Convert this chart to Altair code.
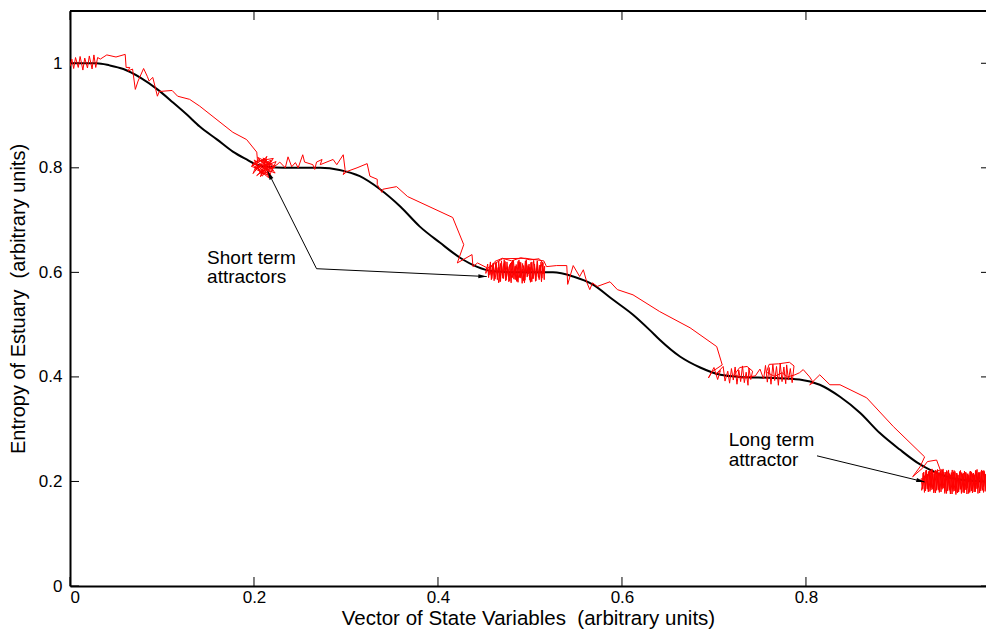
import altair as alt
import pandas as pd

FONT = "Liberation Sans, Arial, Helvetica, sans-serif"

# Axis tick values
x_ticks = [0, 0.2, 0.4, 0.6, 0.8]
y_ticks = [0, 0.2, 0.4, 0.6, 0.8, 1.0]

# Smooth (deterministic) path of the estuary entropy
path_x = [0.000, 0.029, 0.043, 0.058, 0.076, 0.095, 0.112, 0.127, 0.141, 0.160,
          0.177, 0.192, 0.203, 0.214, 0.232, 0.272, 0.293, 0.315, 0.337, 0.359,
          0.380, 0.402, 0.424, 0.442, 0.460, 0.489, 0.525, 0.547, 0.568, 0.590,
          0.612, 0.630, 0.641, 0.663, 0.685, 0.707, 0.728, 0.764, 0.793, 0.815,
          0.837, 0.859, 0.880, 0.902, 0.921, 0.935, 0.955, 0.975, 0.996]
path_y = [1.000, 1.000, 0.996, 0.989, 0.973, 0.950, 0.925, 0.902, 0.879, 0.854,
          0.831, 0.816, 0.806, 0.802, 0.800, 0.800, 0.796, 0.784, 0.759, 0.726,
          0.688, 0.657, 0.628, 0.611, 0.602, 0.600, 0.600, 0.592, 0.577, 0.548,
          0.519, 0.490, 0.471, 0.439, 0.418, 0.404, 0.400, 0.398, 0.395, 0.385,
          0.362, 0.331, 0.293, 0.261, 0.236, 0.222, 0.208, 0.202, 0.200]

# Perturbed trajectory, stored piece by piece in travel order
traj_start = [(0.000, 0.994), (0.002, 1.008), (0.004, 0.990), (0.006, 1.011), (0.009, 0.992),
              (0.011, 1.013), (0.014, 0.987), (0.016, 1.010), (0.019, 0.991), (0.021, 1.014),
              (0.024, 0.989), (0.026, 1.016), (0.028, 0.992), (0.030, 1.011), (0.033, 1.008),
              (0.040, 1.016), (0.050, 1.012), (0.060, 1.017), (0.061, 0.992), (0.065, 0.992),
              (0.063, 0.985), (0.068, 0.989), (0.071, 0.950), (0.074, 0.966), (0.080, 0.990),
              (0.084, 0.975), (0.086, 0.966), (0.090, 0.973), (0.095, 0.937), (0.097, 0.946),
              (0.111, 0.948), (0.117, 0.937), (0.130, 0.931), (0.141, 0.918), (0.177, 0.868),
              (0.192, 0.854), (0.203, 0.830), (0.204, 0.810)]

traj_blob_08 = [(0.198, 0.806), (0.210, 0.792), (0.200, 0.815), (0.214, 0.800), (0.203, 0.785),
                (0.218, 0.812), (0.206, 0.797), (0.197, 0.803), (0.212, 0.818), (0.221, 0.795),
                (0.208, 0.788), (0.215, 0.809), (0.201, 0.798), (0.219, 0.783), (0.211, 0.806),
                (0.204, 0.820), (0.222, 0.804), (0.213, 0.790), (0.199, 0.810), (0.216, 0.796),
                (0.209, 0.814), (0.223, 0.801), (0.206, 0.792), (0.217, 0.786), (0.224, 0.812),
                (0.212, 0.803), (0.220, 0.797), (0.205, 0.816), (0.199, 0.789), (0.214, 0.822),
                (0.207, 0.783), (0.219, 0.815), (0.202, 0.801), (0.216, 0.781), (0.210, 0.819),
                (0.223, 0.790), (0.205, 0.803), (0.218, 0.807), (0.209, 0.784), (0.201, 0.812),
                (0.221, 0.818), (0.213, 0.795)]

traj_drop_06 = [(0.225, 0.806), (0.228, 0.811), (0.234, 0.800), (0.237, 0.821), (0.241, 0.802),
                (0.245, 0.810), (0.248, 0.800), (0.253, 0.825), (0.255, 0.811), (0.264, 0.806),
                (0.266, 0.797), (0.268, 0.811), (0.274, 0.816), (0.272, 0.806), (0.286, 0.816),
                (0.290, 0.806), (0.297, 0.825), (0.299, 0.797), (0.297, 0.787), (0.301, 0.793),
                (0.312, 0.800), (0.323, 0.808), (0.326, 0.784), (0.334, 0.778), (0.334, 0.768),
                (0.339, 0.753), (0.340, 0.759), (0.355, 0.764), (0.367, 0.745), (0.416, 0.705),
                (0.428, 0.653), (0.421, 0.618), (0.437, 0.634), (0.438, 0.611), (0.443, 0.618),
                (0.453, 0.609)]

traj_blob_06 = [(0.452, 0.598), (0.454, 0.616), (0.455, 0.590), (0.457, 0.620), (0.458, 0.586),
                (0.460, 0.612), (0.461, 0.584), (0.463, 0.619), (0.465, 0.592), (0.466, 0.622),
                (0.468, 0.583), (0.469, 0.614), (0.471, 0.588), (0.473, 0.621), (0.474, 0.585),
                (0.476, 0.611), (0.477, 0.582), (0.479, 0.618), (0.481, 0.590), (0.482, 0.623),
                (0.484, 0.586), (0.485, 0.615), (0.487, 0.581), (0.489, 0.620), (0.490, 0.589),
                (0.492, 0.617), (0.493, 0.584), (0.495, 0.622), (0.497, 0.591), (0.498, 0.613),
                (0.500, 0.585), (0.501, 0.619), (0.503, 0.588), (0.505, 0.616), (0.506, 0.583),
                (0.508, 0.621), (0.509, 0.592), (0.511, 0.614), (0.513, 0.589), (0.514, 0.618),
                (0.510, 0.626), (0.500, 0.624), (0.490, 0.628), (0.480, 0.622), (0.470, 0.627),
                (0.462, 0.621), (0.456, 0.606),
                (0.458, 0.594), (0.460, 0.618), (0.462, 0.587), (0.464, 0.609), (0.466, 0.580),
                (0.468, 0.617), (0.470, 0.594), (0.472, 0.624), (0.474, 0.590), (0.476, 0.607),
                (0.478, 0.584), (0.480, 0.620), (0.482, 0.596), (0.484, 0.611), (0.486, 0.583),
                (0.488, 0.624), (0.490, 0.592), (0.492, 0.606), (0.494, 0.580), (0.496, 0.619),
                (0.498, 0.597), (0.500, 0.610), (0.502, 0.582), (0.504, 0.623), (0.506, 0.593),
                (0.508, 0.609), (0.510, 0.586), (0.512, 0.620), (0.514, 0.597), (0.516, 0.612)]

# return sweep through the same cluster
blob_06_back_x = [0.5155, 0.514, 0.5125, 0.511, 0.5095, 0.508, 0.5065, 0.505,
                  0.5035, 0.502, 0.5005, 0.499, 0.4975, 0.496, 0.4945, 0.493,
                  0.4915, 0.490, 0.4885, 0.487, 0.4855, 0.484, 0.4825, 0.481,
                  0.4795, 0.478, 0.4765, 0.475, 0.4735, 0.472, 0.4705, 0.469,
                  0.4675, 0.466, 0.4645, 0.463, 0.4615, 0.460, 0.4585, 0.457,
                  0.4555, 0.454]
blob_06_back_y = [0.586, 0.619, 0.582, 0.614, 0.590, 0.622, 0.584, 0.611,
                  0.588, 0.620, 0.581, 0.616, 0.593, 0.624, 0.585, 0.613,
                  0.579, 0.619, 0.590, 0.621, 0.583, 0.612, 0.587, 0.623,
                  0.580, 0.615, 0.592, 0.620, 0.584, 0.617, 0.589, 0.622,
                  0.582, 0.610, 0.586, 0.618, 0.591, 0.613, 0.588, 0.616,
                  0.595, 0.608]
blob_06_exit = [(0.470, 0.626), (0.495, 0.627), (0.515, 0.622)]

traj_drop_04 = [(0.518, 0.611), (0.529, 0.613), (0.540, 0.613), (0.541, 0.577), (0.547, 0.613),
                (0.554, 0.592), (0.558, 0.605), (0.562, 0.580), (0.565, 0.567), (0.568, 0.580),
                (0.573, 0.573), (0.587, 0.582), (0.595, 0.567), (0.612, 0.557), (0.641, 0.525),
                (0.674, 0.494), (0.703, 0.458), (0.709, 0.423), (0.698, 0.410)]

traj_blob_04 = [(0.694, 0.398), (0.700, 0.418), (0.704, 0.395), (0.707, 0.412), (0.702, 0.405),
                (0.710, 0.420), (0.712, 0.392), (0.715, 0.411), (0.717, 0.388), (0.719, 0.416),
                (0.721, 0.394), (0.723, 0.419), (0.725, 0.386), (0.727, 0.413), (0.729, 0.391),
                (0.731, 0.421), (0.733, 0.389), (0.735, 0.409), (0.737, 0.384), (0.738, 0.417),
                (0.740, 0.395), (0.742, 0.411), (0.736, 0.420), (0.728, 0.418), (0.722, 0.404),
                (0.730, 0.398), (0.745, 0.402), (0.750, 0.415), (0.754, 0.396), (0.756, 0.422),
                (0.758, 0.390), (0.760, 0.418), (0.762, 0.386), (0.764, 0.424), (0.766, 0.393),
                (0.768, 0.420), (0.770, 0.384), (0.772, 0.426), (0.774, 0.391), (0.776, 0.419),
                (0.778, 0.387), (0.779, 0.423), (0.781, 0.394), (0.783, 0.416), (0.785, 0.389),
                (0.787, 0.421), (0.782, 0.428), (0.770, 0.425), (0.760, 0.424), (0.757, 0.409),
                (0.766, 0.401), (0.774, 0.408), (0.780, 0.400), (0.788, 0.404), (0.793, 0.408),
                (0.797, 0.414)]

traj_drop_02 = [(0.804, 0.400), (0.808, 0.389), (0.804, 0.385), (0.815, 0.404), (0.826, 0.385),
                (0.837, 0.385), (0.866, 0.360), (0.895, 0.305), (0.929, 0.247), (0.924, 0.228),
                (0.916, 0.209), (0.927, 0.226), (0.932, 0.238), (0.942, 0.241), (0.946, 0.222),
                (0.935, 0.215), (0.928, 0.205)]

traj_blob_02 = [(0.925, 0.205), (0.927, 0.186), (0.928, 0.218), (0.930, 0.182), (0.931, 0.222),
                (0.933, 0.180), (0.934, 0.220), (0.936, 0.184), (0.937, 0.224), (0.939, 0.178),
                (0.940, 0.219), (0.942, 0.183), (0.943, 0.223), (0.945, 0.179), (0.946, 0.221),
                (0.948, 0.185), (0.949, 0.224), (0.951, 0.177), (0.952, 0.218), (0.954, 0.182),
                (0.955, 0.222), (0.957, 0.176), (0.958, 0.217), (0.960, 0.181), (0.961, 0.221),
                (0.963, 0.175), (0.964, 0.216), (0.966, 0.180), (0.967, 0.219), (0.969, 0.177),
                (0.970, 0.214), (0.972, 0.182), (0.973, 0.218), (0.975, 0.176), (0.976, 0.215),
                (0.978, 0.181), (0.979, 0.220), (0.981, 0.178), (0.982, 0.216), (0.984, 0.183),
                (0.985, 0.221), (0.987, 0.177), (0.988, 0.218), (0.990, 0.182), (0.991, 0.222),
                (0.993, 0.179), (0.994, 0.219), (0.996, 0.184),
                (0.995, 0.214), (0.993, 0.190), (0.992, 0.220), (0.990, 0.186), (0.989, 0.217),
                (0.987, 0.188), (0.986, 0.223), (0.984, 0.180), (0.983, 0.213), (0.981, 0.185),
                (0.980, 0.218), (0.978, 0.179), (0.977, 0.212), (0.975, 0.187), (0.974, 0.217),
                (0.972, 0.178), (0.971, 0.216), (0.969, 0.184), (0.968, 0.221), (0.966, 0.183),
                (0.965, 0.213), (0.963, 0.179), (0.962, 0.219), (0.960, 0.185), (0.959, 0.222),
                (0.957, 0.180), (0.956, 0.215), (0.954, 0.186), (0.953, 0.221), (0.951, 0.181),
                (0.950, 0.218), (0.948, 0.188), (0.947, 0.223), (0.945, 0.182), (0.944, 0.216),
                (0.942, 0.186), (0.941, 0.222), (0.939, 0.181), (0.938, 0.217), (0.936, 0.188),
                (0.935, 0.221), (0.933, 0.184), (0.932, 0.214), (0.930, 0.190), (0.929, 0.211)]

# last pass through the long-term cluster
blob_02_last_x = [0.9258, 0.9273, 0.9288, 0.9303, 0.9318, 0.9333, 0.9348, 0.9363,
                  0.9378, 0.9393, 0.9408, 0.9423, 0.9438, 0.9453, 0.9468, 0.9483,
                  0.9498, 0.9513, 0.9528, 0.9543, 0.9558, 0.9573, 0.9588, 0.9603,
                  0.9618, 0.9633, 0.9648, 0.9663, 0.9678, 0.9693, 0.9708, 0.9723,
                  0.9738, 0.9753, 0.9768, 0.9783, 0.9798, 0.9813, 0.9828, 0.9843,
                  0.9858, 0.9873, 0.9888, 0.9903, 0.9918, 0.9933, 0.9948, 0.9963]
blob_02_last_y = [0.183, 0.216, 0.179, 0.221, 0.186, 0.219, 0.181, 0.223,
                  0.185, 0.214, 0.178, 0.220, 0.184, 0.217, 0.180, 0.222,
                  0.187, 0.215, 0.177, 0.219, 0.183, 0.213, 0.176, 0.218,
                  0.182, 0.216, 0.178, 0.212, 0.185, 0.217, 0.179, 0.220,
                  0.184, 0.214, 0.177, 0.219, 0.182, 0.215, 0.180, 0.221,
                  0.186, 0.216, 0.178, 0.219, 0.183, 0.221, 0.181, 0.214]

# Annotations
note_text = ["Short term", "attractors", "Long term", "attractor"]
note_x = [0.149, 0.149, 0.716, 0.716]
note_y = [0.628, 0.591, 0.279, 0.241]

arrow_x = [0.268, 0.268, 0.812]
arrow_y = [0.607, 0.607, 0.249]
arrow_x2 = [0.215, 0.453, 0.929]
arrow_y2 = [0.793, 0.592, 0.199]
arrow_angle = [334, 92, 104]

# ---------------------------------------------------------------------------
W, H = 916, 575
TICK = 9

trajectory = (traj_start + traj_blob_08 + traj_drop_06 + traj_blob_06 +
              list(zip(blob_06_back_x, blob_06_back_y)) + blob_06_exit +
              traj_drop_04 + traj_blob_04 + traj_drop_02 + traj_blob_02 +
              list(zip(blob_02_last_x, blob_02_last_y)))
df_red = pd.DataFrame({"i": range(len(trajectory)),
                       "x": [p[0] for p in trajectory],
                       "y": [p[1] for p in trajectory]})
df_black = pd.DataFrame({"x": path_x, "y": path_y})
df_notes = pd.DataFrame({"x": note_x, "y": note_y, "label": note_text})
df_arrows = pd.DataFrame({"x": arrow_x, "y": arrow_y, "x2": arrow_x2,
                          "y2": arrow_y2, "angle": arrow_angle})
df_xt = pd.DataFrame({"x": x_ticks})
df_yt = pd.DataFrame({"y": y_ticks})

xs = alt.Scale(domain=[0, 0.9957], nice=False, zero=False)
ys = alt.Scale(domain=[0, 1.1], nice=False, zero=False)

x_axis = alt.Axis(values=x_ticks, format="~g", grid=False, ticks=False, tickSize=0,
                  domainColor="black", domainWidth=2, labelPadding=3,
                  labelFont=FONT, labelFontSize=17, labelColor="black",
                  title="Vector of State Variables \u00a0(arbitrary units)",
                  titleFont=FONT, titleFontSize=20.5, titleFontWeight="normal",
                  titleColor="black", titlePadding=3)
y_axis = alt.Axis(values=y_ticks, format="~g", grid=False, ticks=False, tickSize=0,
                  domainColor="black", domainWidth=2, labelPadding=8,
                  labelFont=FONT, labelFontSize=17, labelColor="black",
                  title="Entropy of Estuary \u00a0(arbitrary units)",
                  titleFont=FONT, titleFontSize=20, titleFontWeight="normal",
                  titleColor="black", titlePadding=10)

X = lambda f="x": alt.X(f"{f}:Q", scale=xs, axis=x_axis)
Y = lambda f="y": alt.Y(f"{f}:Q", scale=ys, axis=y_axis)

black = alt.Chart(df_black).mark_line(color="black", strokeWidth=2,
                                      interpolate="monotone", clip=True).encode(x=X(), y=Y())

red = alt.Chart(df_red).mark_line(color="#ff0000", strokeWidth=1, clip=True).encode(
    x=X(), y=Y(), order="i:Q")

arrows = alt.Chart(df_arrows).mark_rule(color="black", strokeWidth=1).encode(
    x=X(), y=Y(), x2="x2:Q", y2="y2:Q")

heads = alt.Chart(df_arrows).mark_point(
    shape="M0,0L-0.4,1.6L0.4,1.6Z", filled=True, color="black", opacity=1,
    size=110).encode(x=alt.X("x2:Q", scale=xs, axis=x_axis),
                     y=alt.Y("y2:Q", scale=ys, axis=y_axis),
                     angle=alt.Angle("angle:Q", scale=None))

notes = alt.Chart(df_notes).mark_text(align="left", baseline="middle", font=FONT,
                                      fontSize=19, color="black").encode(
    x=X(), y=Y(), text="label:N")

frame_top = alt.Chart(df_xt).mark_rule(color="black", strokeWidth=2).encode(
    x=alt.value(0), x2=alt.value(W), y=alt.value(0))

ticks_bottom = alt.Chart(df_xt).mark_rule(color="black", strokeWidth=1).encode(
    x=X(), y=alt.value(H), y2=alt.value(H - TICK))
ticks_top = alt.Chart(df_xt).mark_rule(color="black", strokeWidth=1).encode(
    x=X(), y=alt.value(0), y2=alt.value(TICK))
ticks_left = alt.Chart(df_yt).mark_rule(color="black", strokeWidth=1).encode(
    y=Y(), x=alt.value(0), x2=alt.value(TICK))
ticks_right = alt.Chart(df_yt).mark_rule(color="black", strokeWidth=1).encode(
    y=Y(), x=alt.value(W + 4 - TICK), x2=alt.value(W + 4))

chart = alt.layer(
    frame_top, ticks_bottom, ticks_top, ticks_left, ticks_right,
    black, red, arrows, heads, notes
).properties(
    width=W, height=H,
    padding={"left": 70, "top": 11, "right": 0, "bottom": 45},
    autosize=alt.AutoSizeParams(type="none"),
    background="white",
).configure_view(stroke=None).configure(font=FONT)

chart.save("out.html", embed_options={"renderer": "svg", "actions": False})
